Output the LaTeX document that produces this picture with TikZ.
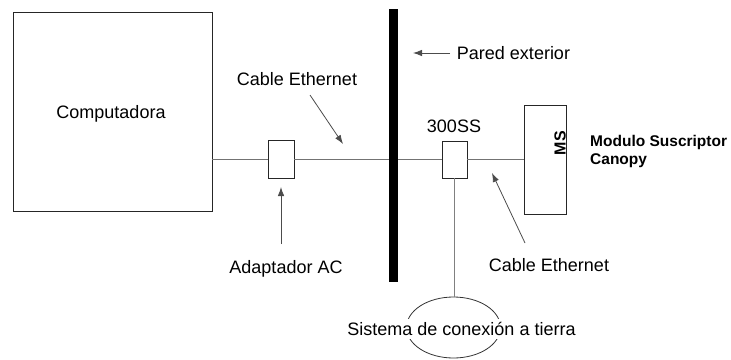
\documentclass[tikz,border=0pt]{standalone}
\usepackage{fontspec}
\setmainfont{Liberation Sans}
\usetikzlibrary{shapes.geometric,arrows.meta}
\begin{document}
\begin{tikzpicture}[x=1pt,y=-1pt,
  lbl/.style={inner sep=0pt,font=\fontsize{18}{21}\selectfont},
  boxk/.style={draw=black!85,line width=0.9pt,inner sep=0pt},
  cable/.style={draw=black!55,line width=1.2pt},
  ptr/.style={draw=black!70,line width=0.8pt,-{Latex[length=9pt,width=6.5pt]}},
]
\useasboundingbox (0,0) rectangle (731,359);
% boxes
\node[boxk,minimum width=199pt,minimum height=199pt] (comp) at (112.5,111.5) {};
\node[lbl] at (111,114) {Computadora};
\node[boxk,minimum width=26pt,minimum height=38pt] (adap) at (281,159.5) {};
\node[boxk,minimum width=25pt,minimum height=37pt] (ss) at (454.5,159.5) {};
\node[boxk,minimum width=42pt,minimum height=109pt] (ms) at (545,159.5) {};
\node[fill=black,inner sep=0pt,minimum width=9pt,minimum height=273pt] (wall) at (393.5,145.5) {};
% cables
\draw[cable] (adap.west) -- (adap.west -| comp.east);
\draw[cable] (adap.east) -- (adap.east -| wall.west);
\draw[cable] (ss.west) -- (ss.west -| wall.east);
\draw[cable] (ss.east) -- (ms.west);
% ground
\node[draw=black!80,line width=0.8pt,ellipse,minimum width=94pt,minimum height=61pt,inner sep=0pt] (gnd) at (453.5,327.5) {};
\draw[draw=black!50,line width=1pt] (ss.south) -- (ss.south |- gnd.north);
\node[lbl,fill=white,inner xsep=1pt,inner ysep=3pt] (gndtxt) at (461.5,329) {Sistema de conexión a tierra};
% MS labels
\node[inner sep=0pt,rotate=90,font=\bfseries\fontsize{16}{18}\selectfont] (mstxt) at (560,143) {MS};
\node[inner sep=0pt,anchor=west,align=left,font=\bfseries\fontsize{15.5}{18}\selectfont] (mslbl) at (590,151) {Modulo Suscriptor\\Canopy};
% labels and pointers
\node[lbl] (pared) at (513.5,53) {Pared exterior};
\coordinate (paredtail) at (450,53);
\coordinate (paredtip) at (413,53);
\draw[ptr] (paredtail) -- (paredtip);
\node[lbl] (cab1) at (297,79) {Cable Ethernet};
\coordinate (cab1tail) at (310,95);
\coordinate (cab1tip) at (343,144);
\draw[ptr] (cab1tail) -- (cab1tip);
\node[lbl] (sslbl) at (454,126) {300SS};
\node[lbl] (adlbl) at (286,269) {Adaptador AC};
\coordinate (adtail) at (281,244);
\coordinate (adtip) at (281,187);
\draw[ptr] (adtail) -- (adtip);
\node[lbl] (cab2) at (549,265) {Cable Ethernet};
\coordinate (cab2tail) at (525,243);
\coordinate (cab2tip) at (492,173);
\draw[ptr] (cab2tail) -- (cab2tip);
\end{tikzpicture}
\end{document}
